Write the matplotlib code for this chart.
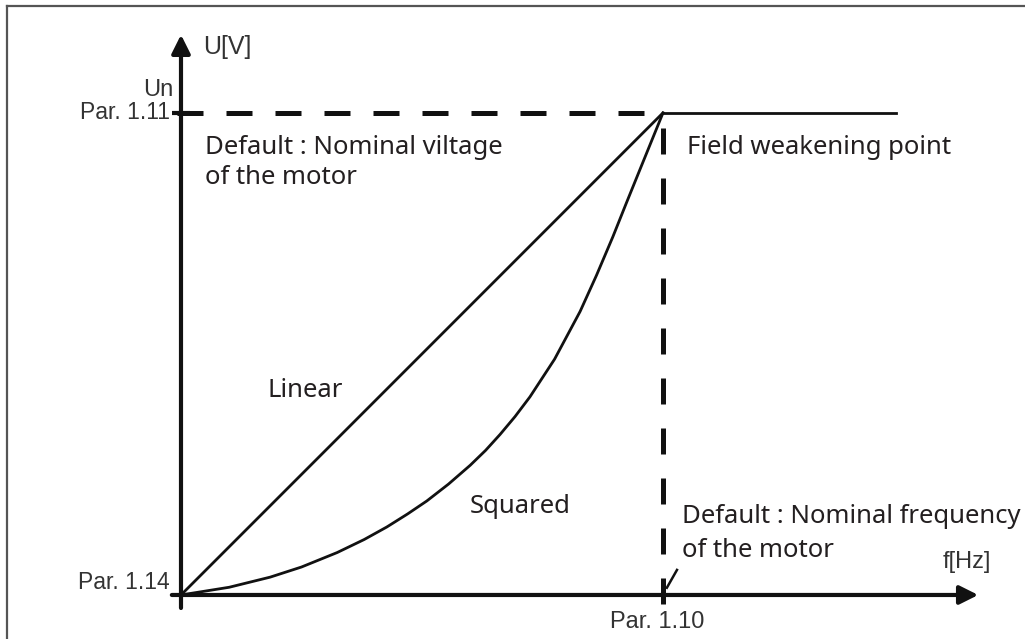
import matplotlib.pyplot as plt
from matplotlib.lines import Line2D

# V/f characteristic, both axes in % of the field weakening point
freq_linear = [0, 100]
volt_linear = [0, 100]

freq_squared = [0, 10, 18.5, 25, 32.4, 38, 42.7, 47, 51, 55.5, 60, 63.2, 66.2,
                69.3, 72.4, 77.5, 82.8, 86.2, 89.6, 92.4, 95.2, 97.6, 100]
volt_squared = [0, 1.6, 3.7, 5.8, 8.8, 11.5, 14.1, 16.8, 19.5, 23.0, 26.9, 30.0, 33.3,
                37.0, 41.1, 48.9, 58.8, 66.3, 74.3, 81.3, 88.2, 94.1, 100]

freq_flat = [100, 148.3]
volt_flat = [100, 100]

fwp_freq = 100   # Par. 1.10
fwp_volt = 100   # Par. 1.11

label_font = ["Liberation Sans", "DejaVu Sans"]
note_font = ["Noto Sans", "DejaVu Sans"]
ink = "#111111"
note_color = "#231f20"
label_color = "#333333"

fig = plt.figure(figsize=(10.25, 6.39), dpi=100)
ax = fig.add_axes([0, 0, 1, 1])
ax.set_xlim(-37.55, 175.1)
ax.set_ylim(-9.13, 123.4)
ax.axis("off")

# outer frame (left and top edges)
fig.add_artist(Line2D([0.0073, 0.0073], [0, 0.991], color="#555555", lw=1.6))
fig.add_artist(Line2D([0.0073, 1.0], [0.991, 0.991], color="#555555", lw=1.6))

# axes with arrowheads
ax.annotate("", xy=(0, 116.2), xytext=(0, -2.7),
            arrowprops=dict(arrowstyle="-|>", lw=3.0, color=ink, mutation_scale=28,
                            shrinkA=0, shrinkB=0))
ax.annotate("", xy=(165.4, 0), xytext=(-1.9, 0),
            arrowprops=dict(arrowstyle="-|>", lw=3.0, color=ink, mutation_scale=28,
                            shrinkA=0, shrinkB=0))

# tick at the nominal voltage level
ax.plot([-1.9, 1.9], [fwp_volt, fwp_volt], color=ink, lw=3.0, solid_capstyle="butt")

# reference dashes to the field weakening point
ax.plot([-0.8, fwp_freq], [fwp_volt, fwp_volt], color=ink, lw=3.6,
        dashes=(5.2, 4.6), dash_capstyle="butt")
ax.plot([fwp_freq, fwp_freq], [96.9, -1.9], color=ink, lw=3.6,
        dashes=(5.2, 4.8), dash_capstyle="butt")
ax.plot([100.8, 102.9], [1.5, 5.2], color=ink, lw=1.8)

# curves
ax.plot(freq_linear, volt_linear, color=ink, lw=2.0, solid_capstyle="round")
ax.plot(freq_squared, volt_squared, color=ink, lw=2.0, solid_joinstyle="round")
ax.plot(freq_flat, volt_flat, color=ink, lw=2.0)

# axis annotations
ax.text(4.56, 113.7, "U[V]", fontsize=18, family=label_font, color=label_color,
        va="center", ha="left")
ax.text(-1.66, 104.8, "Un", fontsize=17, family=label_font, color=label_color,
        va="center", ha="right")
ax.text(-2.28, fwp_volt, "Par. 1.11", fontsize=16.5, family=label_font,
        color=label_color, va="center", ha="right")
ax.text(-2.28, 2.5, "Par. 1.14", fontsize=16.5, family=label_font,
        color=label_color, va="center", ha="right")
ax.text(98.75, -5.6, "Par. 1.10", fontsize=17, family=label_font,
        color=label_color, va="center", ha="center")
ax.text(163.1, 6.85, "f[Hz]", fontsize=17, family=label_font, color=label_color,
        va="center", ha="center")

# explanatory notes
ax.text(4.98, 92.9, "Default : Nominal viltage", fontsize=18.5,
        family=note_font, color=note_color, va="center", ha="left")
ax.text(4.98, 86.5, "of the motor", fontsize=18.5,
        family=note_font, color=note_color, va="center", ha="left")
ax.text(105.0, 92.9, "Field weakening point", fontsize=18.5, family=note_font,
        color=note_color, va="center", ha="left")
ax.text(103.9, 16.2, "Default : Nominal frequency", fontsize=18.5,
        family=note_font, color=note_color, va="center", ha="left")
ax.text(103.9, 9.3, "of the motor", fontsize=18.5,
        family=note_font, color=note_color, va="center", ha="left")
ax.text(18.05, 42.5, "Linear", fontsize=18.5, family=note_font, color=note_color,
        va="center", ha="left")
ax.text(59.96, 18.26, "Squared", fontsize=18.5, family=note_font, color=note_color,
        va="center", ha="left")

fig.savefig("out.png", dpi=100)
